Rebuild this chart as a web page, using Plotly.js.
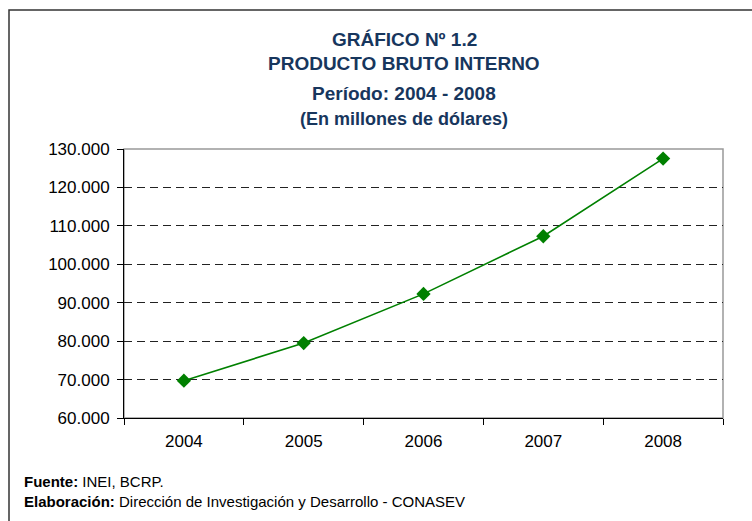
<!DOCTYPE html>
<html>
<head>
<meta charset="utf-8">
<script src="https://cdn.plot.ly/plotly-3.0.1.min.js"></script>
<style>
html,body{margin:0;padding:0;background:#fff;}
#chart{width:752px;height:521px;}
</style>
</head>
<body>
<div id="chart"></div>
<script>
const years = ['2004', '2005', '2006', '2007', '2008'];
const pbi = [69700, 79500, 92300, 107300, 127500];
const yTicks = [60000, 70000, 80000, 90000, 100000, 110000, 120000, 130000];
const titleLines = ['GRÁFICO Nº 1.2', 'PRODUCTO BRUTO INTERNO', 'Período: 2004 - 2008', '(En millones de dólares)'];
const footLines = [['Fuente:', ' INEI, BCRP.'], ['Elaboración:', ' Dirección de Investigación y Desarrollo - CONASEV']];

const L = 124, R = 29, T = 149, B = 103, W = 752, H = 521;
const pw = W - L - R, ph = H - T - B;
const px = x => (x - L) / pw;
const py = y => (H - B - y) / ph;

const navy = '#17365d';
const font = 'Arial';

const titleY = [40, 63, 94, 119];
const titleSize = [19, 19, 19, 18];
const annotations = titleLines.map((t, i) => ({
  text: '<b>' + t + '</b>', xref: 'paper', yref: 'paper',
  x: px(404), y: py(titleY[i]), xanchor: 'center', yanchor: 'middle',
  showarrow: false, font: {family: font, size: titleSize[i], color: navy}
}));
const footY = [481, 501];
footLines.forEach((f, i) => annotations.push({
  text: '<b>' + f[0] + '</b>' + f[1], xref: 'paper', yref: 'paper',
  x: px(22), y: py(footY[i]), xanchor: 'left', yanchor: 'middle',
  showarrow: false, font: {family: font, size: 15, color: '#000'}
}));

const trace = {
  x: years, y: pbi, type: 'scatter', mode: 'lines+markers',
  line: {color: '#008000', width: 1.6},
  marker: {symbol: 'diamond', size: 11, color: '#008000'},
  hoverinfo: 'skip'
};

const layout = {
  width: W, height: H,
  margin: {l: L, r: R, t: T, b: B},
  paper_bgcolor: '#fff', plot_bgcolor: '#fff',
  separators: ',.',
  showlegend: false,
  font: {family: font, color: '#000'},
  xaxis: {
    type: 'category', range: [-0.5, 4.5],
    tickson: 'boundaries', ticks: 'outside', ticklen: 6, tickcolor: '#000', tickwidth: 1,
    showline: true, linecolor: '#000', linewidth: 1,
    showgrid: false, zeroline: false,
    tickfont: {family: font, size: 17, color: '#000'},
    ticklabelstandoff: 8
  },
  yaxis: {
    range: [60000, 130000], tickvals: yTicks, tickformat: ',d',
    ticks: 'outside', ticklen: 6, tickcolor: '#000', tickwidth: 1,
    showline: true, linecolor: '#000', linewidth: 1,
    showgrid: true, gridcolor: '#222', griddash: '8px,5px', gridwidth: 1,
    zeroline: false,
    tickfont: {family: font, size: 17, color: '#000'},
    ticklabelstandoff: 4
  },
  shapes: [
    {type: 'rect', xref: 'paper', yref: 'paper', x0: 0, x1: 1, y0: 0, y1: 1,
     line: {color: '#999', width: 1.5}, layer: 'below'},
    {type: 'rect', xref: 'paper', yref: 'paper', x0: px(9), x1: px(770), y0: py(540), y1: py(10),
     line: {color: '#333', width: 1.5}, layer: 'above'}
  ],
  annotations: annotations
};

Plotly.newPlot('chart', [trace], layout, {staticPlot: true, displayModeBar: false});
</script>
</body>
</html>
